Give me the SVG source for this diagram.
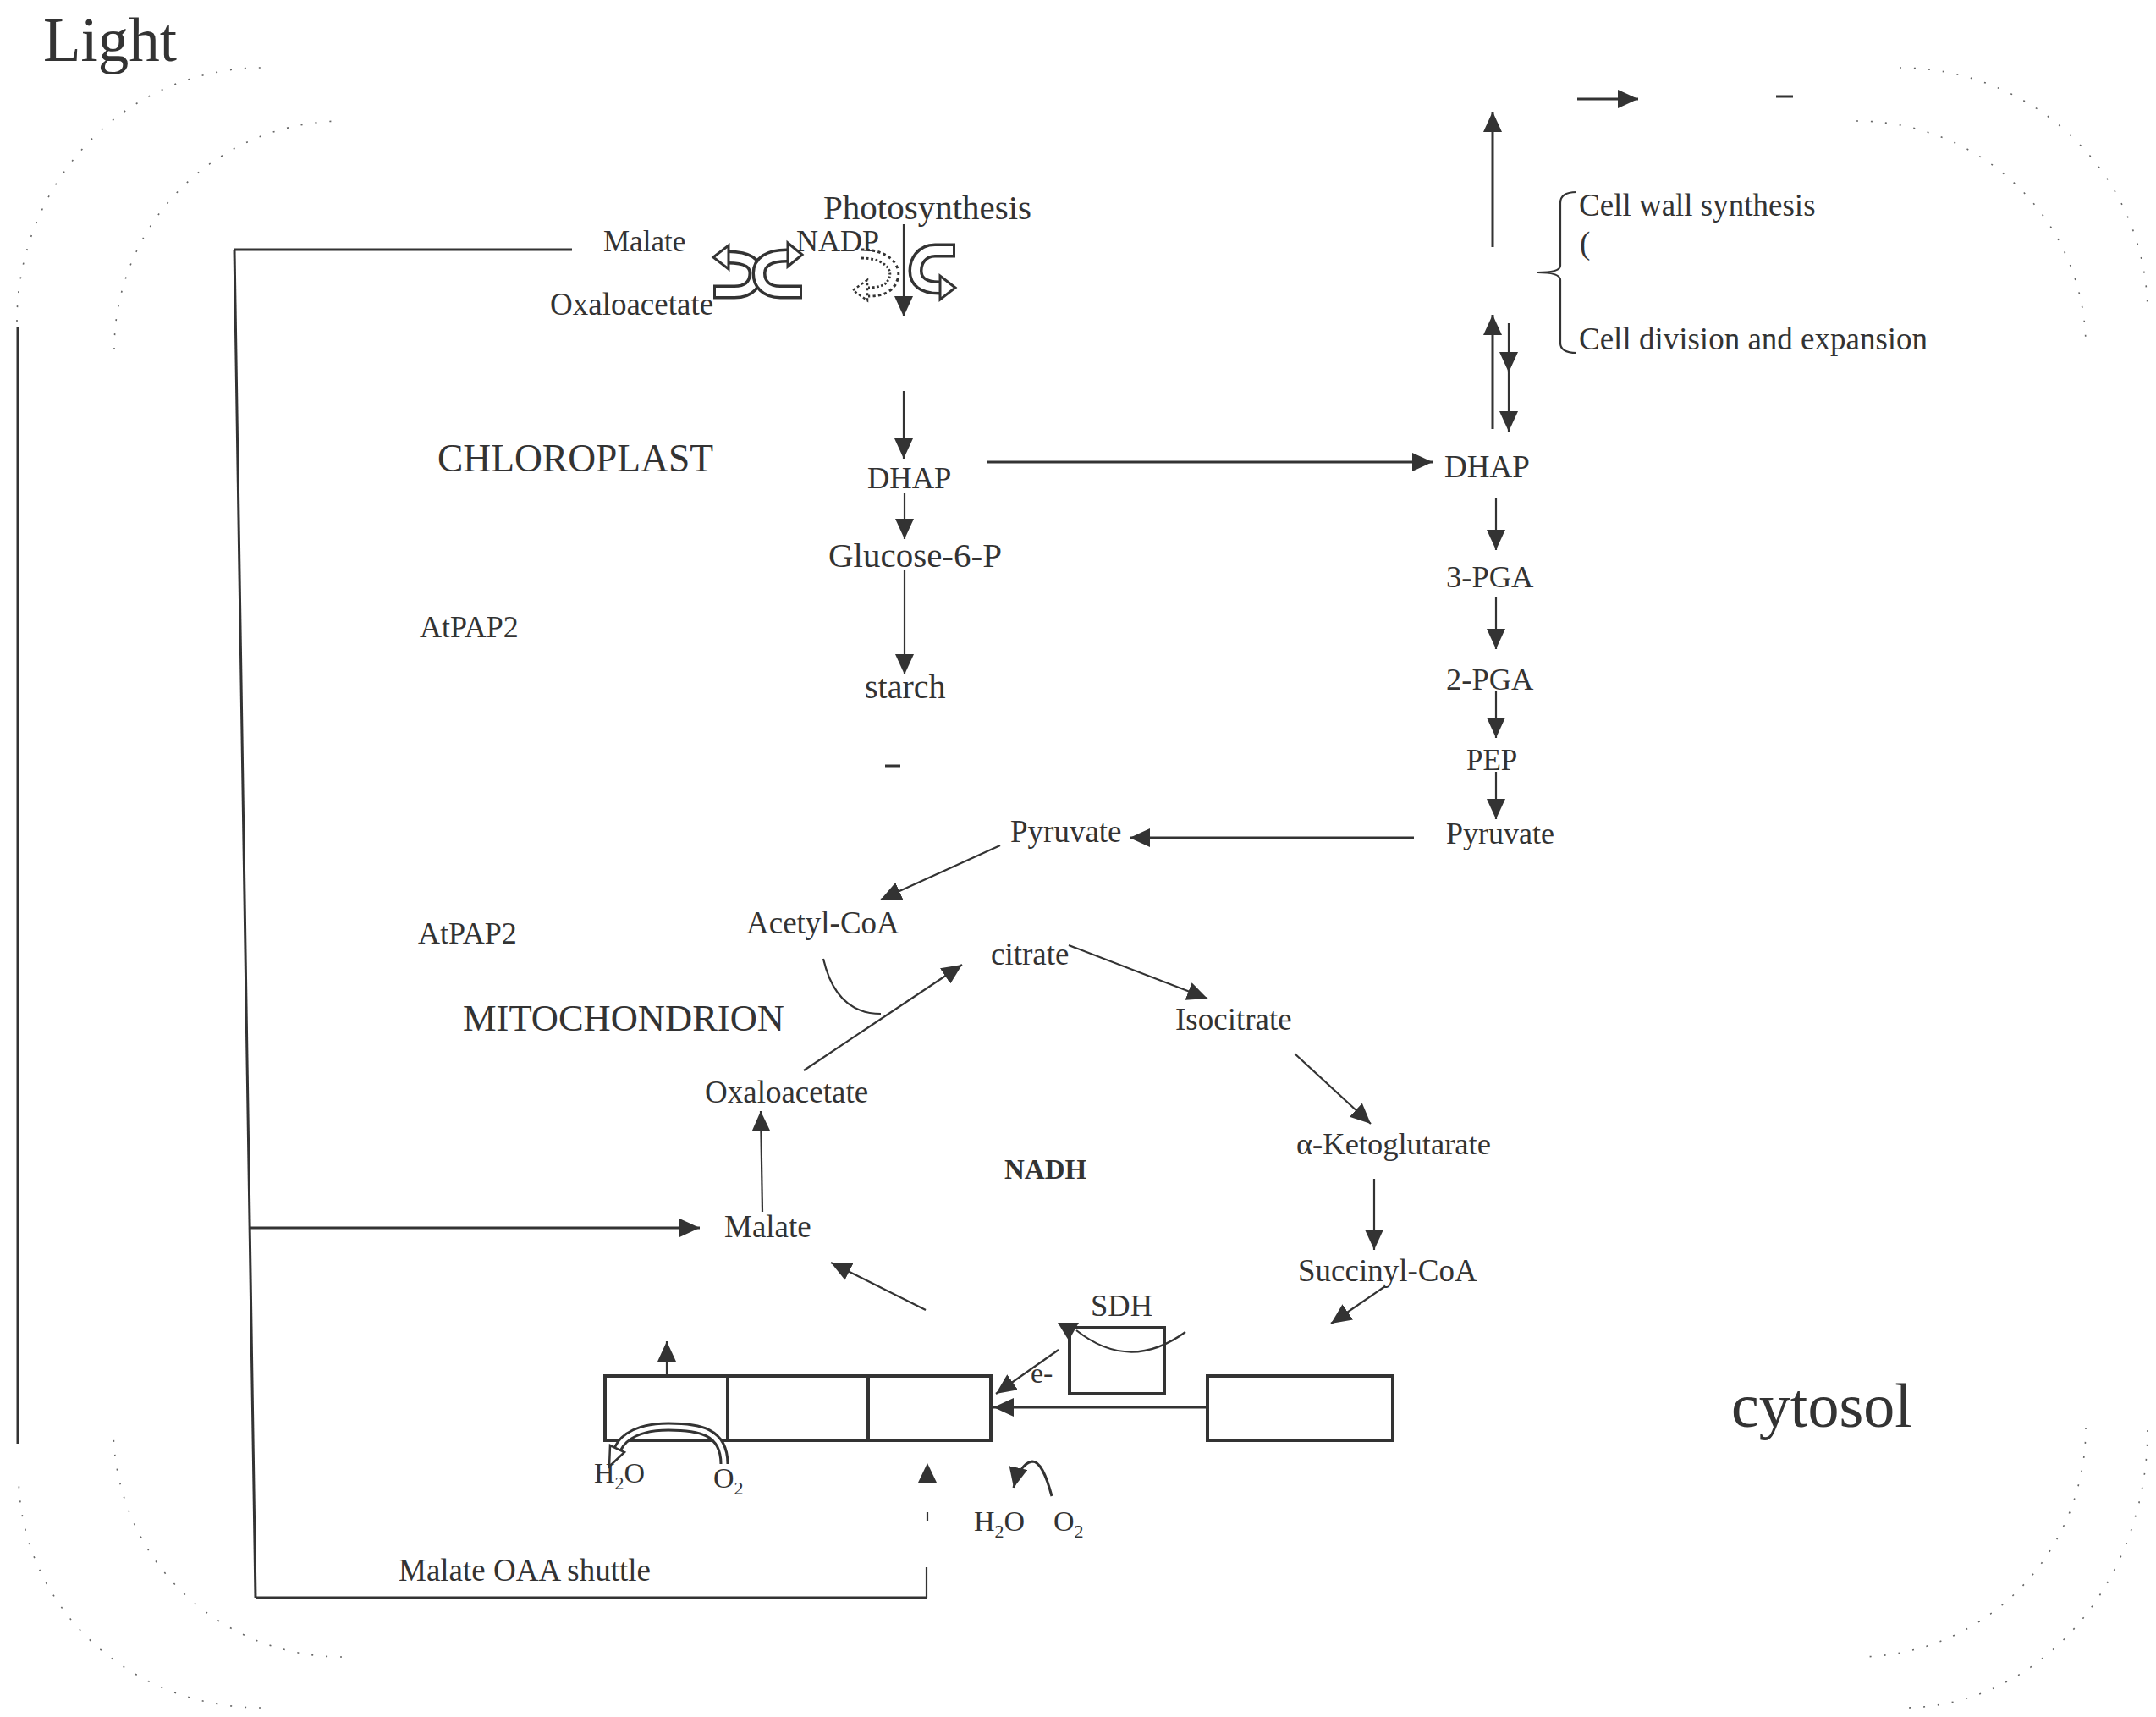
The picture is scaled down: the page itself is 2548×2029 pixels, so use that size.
<svg xmlns="http://www.w3.org/2000/svg" width="2548" height="2029" viewBox="0 0 2548 2029">
<style>
text{font-family:"Liberation Serif","Times New Roman",serif;fill:#333}
.ln{stroke:#333;stroke-width:2.2;fill:none}
.th{stroke:#333;stroke-width:3;fill:none}
.dot{stroke:#666;stroke-width:1.6;fill:none;stroke-dasharray:2 15}
.box{stroke:#333;stroke-width:4;fill:#fff}
.bo{stroke:#333;stroke-width:17;fill:none}
.bi{stroke:#fff;stroke-width:10;fill:none}
.ah{fill:#fff;stroke:#333;stroke-width:3;stroke-linejoin:miter}
</style>
<defs>
<marker id="a" viewBox="0 0 24 22" refX="24" refY="11" markerWidth="24" markerHeight="22" markerUnits="userSpaceOnUse" orient="auto"><path d="M0,0 L24,11 L0,22 z" fill="#333"/></marker>
</defs>
<rect width="2548" height="2029" fill="#fff"/>

<g id="cell-boundary">
<path class="dot" d="M20,380 A290,300 0 0 1 310,80"/>
<path class="dot" d="M2245,80 A293,290 0 0 1 2538,370"/>
<path class="dot" d="M2538,1690 A288,328 0 0 1 2250,2018"/>
<path class="dot" d="M308,2018 A286,275 0 0 1 22,1743"/>
<path class="dot" d="M135,413 A271,270 0 0 1 406,143"/>
<path class="dot" d="M2194,143 A271,267 0 0 1 2465,410"/>
<path class="dot" d="M2465,1687 A270,271 0 0 1 2195,1958"/>
<path class="dot" d="M404,1958 A270,270 0 0 1 134,1688"/>
</g>

<g id="labels">
<text x="51" y="72" font-size="73">Light</text>
<text x="517" y="557" font-size="45.5">CHLOROPLAST</text>
<text x="547" y="1218" font-size="44.5">MITOCHONDRION</text>
<text x="2046" y="1686" font-size="74">cytosol</text>
<text x="496" y="753" font-size="36">AtPAP2</text>
<text x="494" y="1115" font-size="36">AtPAP2</text>
<text x="471" y="1868" font-size="37">Malate OAA shuttle</text>
</g>

<g id="n-photosynthesis"><text x="973" y="259" font-size="41">Photosynthesis</text></g>
<g id="n-malate-chl"><text x="713" y="297" font-size="35">Malate</text></g>
<g id="n-nadp"><text x="941" y="297" font-size="36">NADP</text></g>
<g id="n-oaa-chl"><text x="650" y="372" font-size="37">Oxaloacetate</text></g>
<g id="n-dhap-chl"><text x="1025" y="577" font-size="36.5">DHAP</text></g>
<g id="n-g6p"><text x="979" y="670" font-size="41">Glucose-6-P</text></g>
<g id="n-starch"><text x="1022" y="825" font-size="40">starch</text></g>
<g id="n-dhap-cyt"><text x="1707" y="564" font-size="37">DHAP</text></g>
<g id="n-cellwall"><text x="1866" y="255" font-size="37">Cell wall synthesis</text><text x="1867" y="300" font-size="37">(</text></g>
<g id="n-celldiv"><text x="1866" y="413" font-size="37">Cell division and expansion</text></g>
<g id="n-3pga"><text x="1709" y="694" font-size="36.5">3-PGA</text></g>
<g id="n-2pga"><text x="1709" y="815" font-size="36.5">2-PGA</text></g>
<g id="n-pep"><text x="1733" y="910" font-size="35">PEP</text></g>
<g id="n-pyr-cyt"><text x="1709" y="997" font-size="36">Pyruvate</text></g>
<g id="n-pyr-mit"><text x="1194" y="995" font-size="37">Pyruvate</text></g>
<g id="n-acetylcoa"><text x="882" y="1103" font-size="37">Acetyl-CoA</text></g>
<g id="n-citrate"><text x="1171" y="1140" font-size="37">citrate</text></g>
<g id="n-isocitrate"><text x="1389" y="1217" font-size="37">Isocitrate</text></g>
<g id="n-oaa-mit"><text x="833" y="1303" font-size="37">Oxaloacetate</text></g>
<g id="n-akg"><text x="1532" y="1364" font-size="36.5">α-Ketoglutarate</text></g>
<g id="n-nadh"><text x="1187" y="1393" font-size="33" font-weight="bold">NADH</text></g>
<g id="n-malate-mit"><text x="856" y="1462" font-size="37">Malate</text></g>
<g id="n-succinyl"><text x="1534" y="1514" font-size="37">Succinyl-CoA</text></g>
<g id="n-sdh"><text x="1289" y="1555" font-size="36.5">SDH</text><rect class="box" x="1264" y="1569" width="112" height="78"/></g>
<g id="n-etc"><rect class="box" x="715" y="1626" width="456" height="76"/><line class="box" x1="860" y1="1626" x2="860" y2="1702"/><line class="box" x1="1026" y1="1626" x2="1026" y2="1702"/></g>
<g id="n-complex"><rect class="box" x="1427" y="1626" width="219" height="76"/></g>
<g id="n-water1"><text x="702" y="1752" font-size="34">H<tspan font-size="22" dy="8">2</tspan><tspan dy="-8">O</tspan></text><text x="843" y="1758" font-size="34">O<tspan font-size="22" dy="8">2</tspan></text></g>
<g id="n-water2"><text x="1151" y="1809" font-size="34">H<tspan font-size="22" dy="8">2</tspan><tspan dy="-8">O</tspan></text><text x="1245" y="1809" font-size="34">O<tspan font-size="22" dy="8">2</tspan></text></g>
<g id="n-e"><text x="1218" y="1634" font-size="34">e-</text></g>

<g id="connectors">
<line class="ln" x1="1068" y1="265" x2="1068" y2="374" marker-end="url(#a)"/>
<line class="ln" x1="1068" y1="462" x2="1068" y2="542" marker-end="url(#a)"/>
<line class="ln" x1="1069" y1="582" x2="1069" y2="637" marker-end="url(#a)"/>
<line class="ln" x1="1069" y1="673" x2="1069" y2="797" marker-end="url(#a)"/>
<line class="th" x1="1167" y1="546" x2="1693" y2="546" marker-end="url(#a)"/>
<line class="th" x1="1764" y1="292" x2="1764" y2="132" marker-end="url(#a)"/>
<line class="th" x1="1864" y1="117" x2="1936" y2="117" marker-end="url(#a)"/>
<line class="th" x1="1764" y1="507" x2="1764" y2="372" marker-end="url(#a)"/>
<line class="ln" x1="1783" y1="382" x2="1783" y2="440" marker-end="url(#a)"/>
<line class="ln" x1="1783" y1="436" x2="1783" y2="510" marker-end="url(#a)"/>
<line class="ln" x1="1768" y1="589" x2="1768" y2="650" marker-end="url(#a)"/>
<line class="ln" x1="1768" y1="705" x2="1768" y2="767" marker-end="url(#a)"/>
<line class="ln" x1="1768" y1="817" x2="1768" y2="872" marker-end="url(#a)"/>
<line class="ln" x1="1768" y1="912" x2="1768" y2="968" marker-end="url(#a)"/>
<line class="th" x1="1671" y1="990" x2="1335" y2="990" marker-end="url(#a)"/>
<line class="ln" x1="1182" y1="999" x2="1041" y2="1063" marker-end="url(#a)"/>
<path class="ln" d="M973,1133 C982,1172 1002,1198 1041,1198"/>
<line class="ln" x1="950" y1="1265" x2="1137" y2="1140" marker-end="url(#a)"/>
<line class="ln" x1="1263" y1="1117" x2="1427" y2="1180" marker-end="url(#a)"/>
<line class="ln" x1="1530" y1="1245" x2="1620" y2="1328" marker-end="url(#a)"/>
<line class="ln" x1="1624" y1="1393" x2="1624" y2="1477" marker-end="url(#a)"/>
<line class="ln" x1="1637" y1="1520" x2="1573" y2="1564" marker-end="url(#a)"/>
<line class="ln" x1="901" y1="1432" x2="899" y2="1313" marker-end="url(#a)"/>
<line class="th" x1="295" y1="1451" x2="827" y2="1451" marker-end="url(#a)"/>
<line class="ln" x1="1094" y1="1548" x2="982" y2="1492" marker-end="url(#a)"/>
<line class="ln" x1="1251" y1="1595" x2="1177" y2="1647" marker-end="url(#a)"/>
<line class="th" x1="1427" y1="1663" x2="1174" y2="1663" marker-end="url(#a)"/>
<line class="ln" x1="788" y1="1626" x2="788" y2="1585" marker-end="url(#a)"/>
<path class="ln" d="M1401,1574 Q1335,1622 1272,1572"/>
<polygon points="1250,1563 1275,1563 1263,1584" fill="#333"/>
<path class="th" d="M1243,1768 C1236,1742 1229,1727 1220,1727 C1209,1728 1201,1745 1198,1758" marker-end="url(#a)"/>
<polygon points="1085,1752 1107,1752 1096,1729" fill="#333"/>
<line class="ln" x1="1096" y1="1787" x2="1096" y2="1797"/>
<line class="th" x1="21" y1="387" x2="21" y2="1706"/>
<line class="th" x1="277" y1="295" x2="676" y2="295"/>
<line class="th" x1="277" y1="295" x2="302" y2="1888"/>
<line class="th" x1="302" y1="1888" x2="1095" y2="1888"/>
<line class="ln" x1="1095" y1="1852" x2="1095" y2="1888"/>
<line class="th" x1="1046" y1="905" x2="1064" y2="905"/>
<line class="th" x1="2099" y1="114" x2="2119" y2="114"/>
<path class="ln" d="M1863,227 Q1844,227 1844,240 L1844,314 Q1844,322 1817,322 Q1844,322 1844,331 L1844,405 Q1844,417 1863,417"/>
<path class="bo" d="M843,345 L868,345 C887,345 893,334 893,323 C893,311 884,304 860,304"/>
<path class="bi" d="M846,345 L868,345 C887,345 893,334 893,323 C893,311 884,304 860,304"/>
<polygon class="ah" points="843,304 861,290 861,318"/>
<path class="bo" d="M948,345 L922,345 C905,345 897,335 897,323 C897,310 908,302 930,302"/>
<path class="bi" d="M945,345 L922,345 C905,345 897,335 897,323 C897,310 908,302 930,302"/>
<polygon class="ah" points="948,301 931,287 931,315"/>
<path class="bo" d="M1129,296 L1105,296 C1089,296 1082,309 1082,320 C1082,332 1090,340 1110,340"/>
<path class="bi" d="M1126,296 L1105,296 C1089,296 1082,309 1082,320 C1082,332 1090,340 1110,340"/>
<polygon class="ah" points="1129,340 1111,326 1111,354"/>
<path d="M1018,300 C1048,300 1060,316 1056,329 C1052,341 1042,345 1026,345" stroke="#333" stroke-width="13" fill="none" stroke-dasharray="3 3"/>
<path d="M1018,300 C1048,300 1060,316 1056,329 C1052,341 1042,345 1026,345" stroke="#fff" stroke-width="7" fill="none"/>
<polygon points="1008,343 1025,331 1025,355" fill="#fff" stroke="#333" stroke-width="2.5" stroke-dasharray="3 3"/>
<path d="M856,1730 C856,1691 826,1686 790,1686 C756,1686 737,1697 730,1712" stroke="#333" stroke-width="11" fill="none"/>
<path d="M856,1730 C856,1691 826,1686 790,1686 C756,1686 737,1697 730,1712" stroke="#fff" stroke-width="5" fill="none"/>
<polygon points="720,1733 721,1708 738,1716" fill="#fff" stroke="#333" stroke-width="2.5"/>
</g>
</svg>
